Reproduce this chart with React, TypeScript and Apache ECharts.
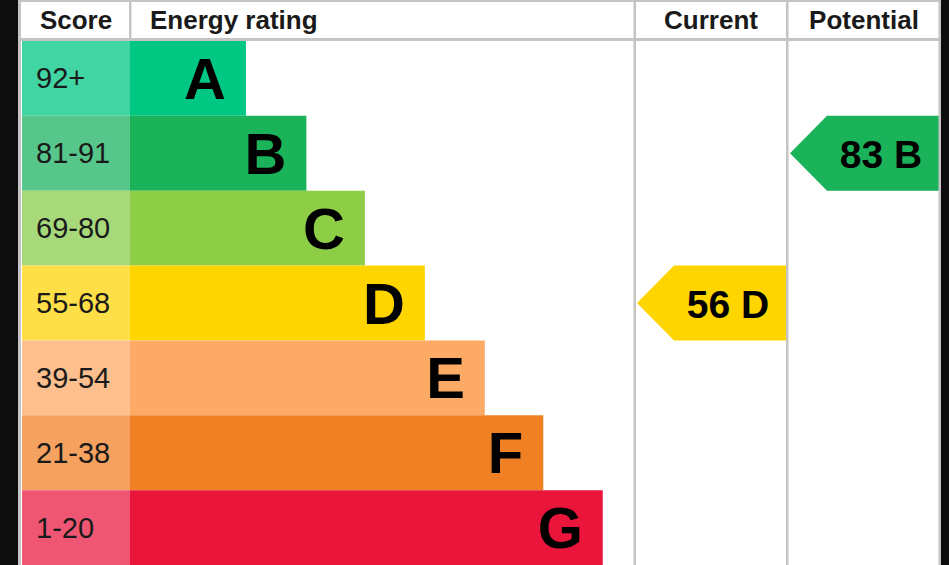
import React, { useEffect, useRef } from 'react';
import * as echarts from 'echarts';

const ratings = ['A', 'B', 'C', 'D', 'E', 'F', 'G'];
const scoreRanges = ['92+', '81-91', '69-80', '55-68', '39-54', '21-38', '1-20'];
const bandMin = [92, 81, 69, 55, 39, 21, 1];
const barLengths = [23, 35, 46.6, 58.5, 70.4, 82, 93.8];
const scoreColors = ['#40d5a3', '#56c68a', '#a7d97a', '#ffdf48', '#fdbf8d', '#f5a261', '#ef5673'];
const barColors = ['#00c781', '#1bb35a', '#8ece47', '#ffd500', '#fcaa65', '#ef8024', '#e9153b'];
const headers = ['Score', 'Energy rating', 'Current', 'Potential'];
const currentScore = 56;
const potentialScore = 83;

const FONT = '"Liberation Sans", Arial, Helvetica, sans-serif';
const GRAY = '#c4c4c4';

function bandIndex(score: number) {
  return bandMin.findIndex((m) => score >= m);
}

function makeArrowRender(score: number) {
  return (params: any, api: any) => {
    const cs = params.coordSys;
    const idx = api.value(1);
    const yc = api.coord([0, idx])[1];
    const h = api.size([0, 1])[1];
    const x0 = cs.x + 1;
    const x1 = cs.x + cs.width;
    const sh = x0 + 37;
    return {
      type: 'group',
      children: [
        {
          type: 'polygon',
          shape: {
            points: [
              [x0, yc],
              [sh, yc - h / 2],
              [x1, yc - h / 2],
              [x1, yc + h / 2],
              [sh, yc + h / 2],
            ],
          },
          style: { fill: barColors[idx] },
        },
        {
          type: 'text',
          style: {
            text: `${score} ${ratings[idx]}`,
            x: (sh + x1) / 2 - 2,
            y: yc + 1,
            align: 'center',
            verticalAlign: 'middle',
            textAlign: 'center',
            textVerticalAlign: 'middle',
            font: `bold 39px ${FONT}`,
            fill: '#000',
          },
        },
      ],
    };
  };
}

export default function App() {
  const ref = useRef<HTMLDivElement>(null);
  useEffect(() => {
    if (!ref.current) return;
    const chart = echarts.init(ref.current, null, { renderer: 'svg' });
    const grids = [
      { left: 22, width: 108, top: 41, height: 525 },
      { left: 130, width: 504, top: 41, height: 525 },
      { left: 636, width: 150, top: 41, height: 525 },
      { left: 789, width: 150, top: 41, height: 525 },
    ];
    const xMax = [1, 100, 100, 100];
    const headerText = (text: string, x: number, align: string) => ({
      type: 'text',
      x,
      y: 20,
      style: {
        text,
        align,
        verticalAlign: 'middle',
        textAlign: align,
        textVerticalAlign: 'middle',
        font: `bold 26px ${FONT}`,
        fill: '#1a1a1a',
      },
      z: 10,
    });
    const rect = (x: number, y: number, w: number, h: number, fill: string, z = 5) => ({
      type: 'rect',
      shape: { x, y, width: w, height: h },
      style: { fill },
      z,
      silent: true,
    });
    const option: any = {
      animation: false,
      backgroundColor: '#0d0d0d',
      grid: grids,
      xAxis: grids.map((_, i) => ({ type: 'value', gridIndex: i, min: 0, max: xMax[i], show: false })),
      yAxis: grids.map((_, i) => ({
        type: 'category',
        gridIndex: i,
        data: ratings,
        inverse: true,
        show: false,
        boundaryGap: true,
      })),
      graphic: {
        elements: [
          rect(18, 0, 923, 565, '#ffffff', -10),
          rect(18, 0, 3, 565, GRAY),
          rect(18, 0, 923, 2, GRAY),
          rect(18, 38, 923, 3, GRAY),
          rect(129, 0, 2.5, 39, GRAY),
          rect(633.5, 0, 2.5, 565, GRAY),
          rect(786, 0, 2.5, 565, GRAY),
          rect(938.5, 0, 2.5, 565, GRAY),
          headerText(headers[0], 76, 'center'),
          headerText(headers[1], 150, 'left'),
          headerText(headers[2], 711, 'center'),
          headerText(headers[3], 864, 'center'),
        ],
      },
      series: [
        {
          type: 'bar',
          xAxisIndex: 0,
          yAxisIndex: 0,
          barCategoryGap: '0%',
          silent: true,
          data: scoreRanges.map((_, i) => ({ value: 1, itemStyle: { color: scoreColors[i] } })),
          label: {
            show: true,
            position: 'insideLeft',
            distance: 14,
            formatter: (p: any) => scoreRanges[p.dataIndex],
            fontFamily: FONT,
            fontSize: 29,
            color: '#1a1a1a',
          },
        },
        {
          type: 'bar',
          xAxisIndex: 1,
          yAxisIndex: 1,
          barCategoryGap: '0%',
          silent: true,
          data: barLengths.map((v, i) => ({ value: v, itemStyle: { color: barColors[i] } })),
          label: {
            show: true,
            position: 'insideRight',
            distance: 20,
            formatter: (p: any) => ratings[p.dataIndex],
            fontFamily: FONT,
            fontWeight: 'bold',
            fontSize: 58,
            color: '#000',
          },
        },
        {
          type: 'custom',
          xAxisIndex: 2,
          yAxisIndex: 2,
          silent: true,
          renderItem: makeArrowRender(currentScore),
          data: [[currentScore, bandIndex(currentScore)]],
        },
        {
          type: 'custom',
          xAxisIndex: 3,
          yAxisIndex: 3,
          silent: true,
          renderItem: makeArrowRender(potentialScore),
          data: [[potentialScore, bandIndex(potentialScore)]],
        },
      ],
    };
    chart.setOption(option);
    return () => chart.dispose();
  }, []);
  return (
    <div
      ref={ref}
      style={{ position: 'fixed', left: 0, top: 0, width: 949, height: 565 }}
    />
  );
}
